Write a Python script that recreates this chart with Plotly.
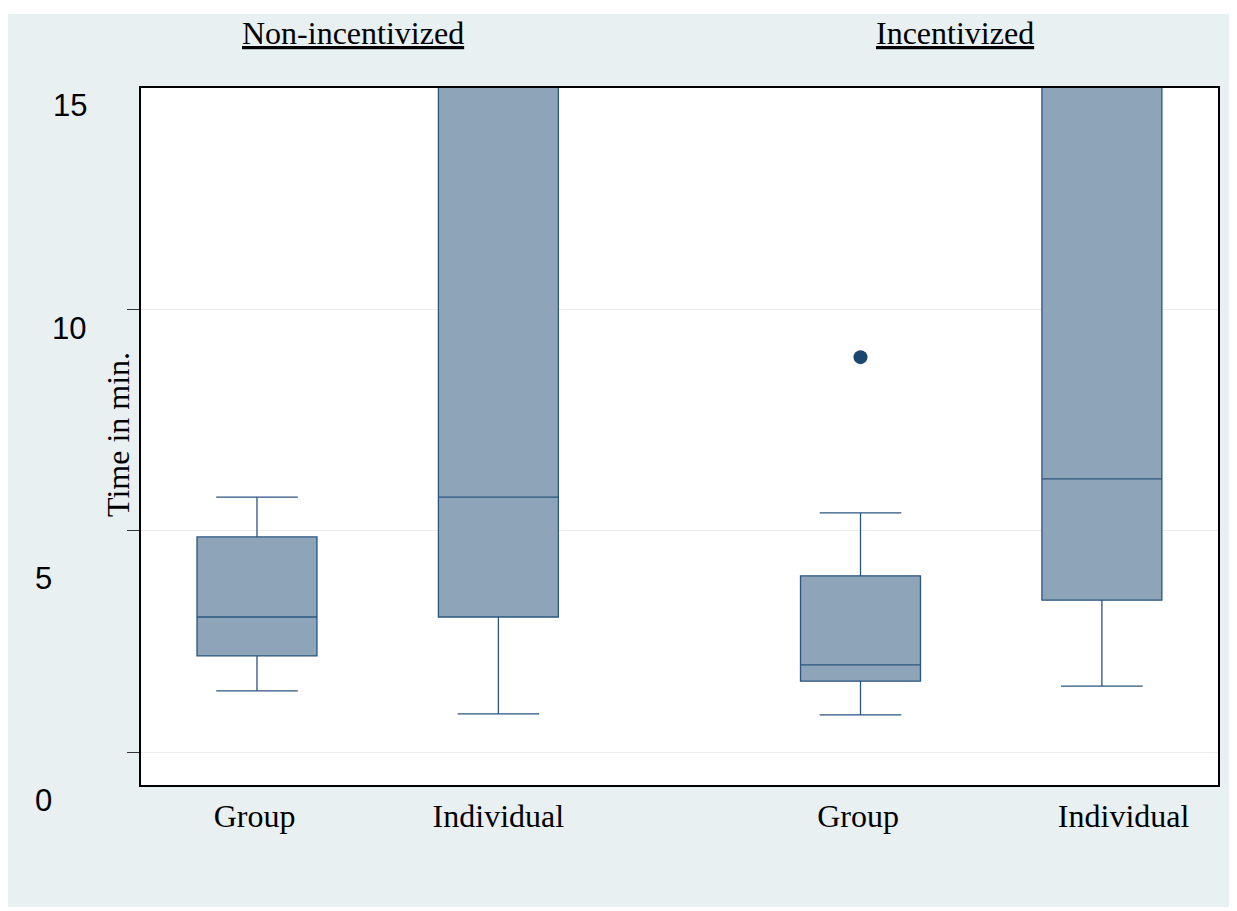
import plotly.graph_objects as go

# ---- data ----
panels = ["Non-incentivized", "Incentivized"]
positions = [0, 1, 2.5, 3.5]
labels = ["Group", "Individual", "Group", "Individual"]
lowerfence = [1.38, 0.86, 0.84, 1.49]
q1 = [2.17, 3.05, 1.60, 3.43]
median = [3.05, 5.76, 1.97, 6.17]
q3 = [4.86, 16.5, 3.98, 16.5]
upperfence = [5.76, 18.0, 5.40, 18.0]
outlier_x = [2.5]
outlier_y = [8.92]
ytick_vals = [0, 5, 10]
ytick_text = ["15", "10", "5", "0"]

# page body has an 8px margin, so figure coords = screen coords - 8
OFF = 8
W, H = 1237 - OFF, 911 - OFF
ML, MR, MT, MB = 141 - OFF, W - (1218 - OFF), 88 - OFF, H - (785 - OFF)
PW, PH = W - ML - MR, H - MT - MB

def px(x):  # screen x -> paper
    return (x - OFF - ML) / PW

def py(y):  # screen y -> paper
    return (H - MB - (y - OFF)) / PH

BG = "#e8f0f2"
FILL = "#8ea4b8"
LINE = "#2a5580"
SERIF = "Liberation Serif, Times New Roman, serif"
SANS = "Liberation Sans, Arial, sans-serif"

fig = go.Figure()
fig.add_trace(go.Box(
    x=positions, q1=q1, median=median, q3=q3,
    lowerfence=lowerfence, upperfence=upperfence,
    width=0.497, whiskerwidth=0.68,
    fillcolor=FILL, line=dict(color=LINE, width=1.3),
    boxpoints=False, showlegend=False,
))
fig.add_trace(go.Scatter(
    x=outlier_x, y=outlier_y, mode="markers",
    marker=dict(color="#1a4670", size=14), showlegend=False,
))

annotations = []
for txt, xc in zip(panels, [353, 955]):
    annotations.append(dict(text="<u>" + txt + "</u>", x=px(xc), y=py(33),
                            xref="paper", yref="paper", showarrow=False,
                            xanchor="center", yanchor="middle",
                            font=dict(family=SERIF, size=32, color="black")))
for txt, xc, yc in zip(ytick_text, [70, 69, 43, 43], [105, 328, 578, 800]):
    annotations.append(dict(text=txt, x=px(xc), y=py(yc),
                            xref="paper", yref="paper", showarrow=False,
                            xanchor="center", yanchor="middle",
                            font=dict(family=SANS, size=31, color="black")))
annotations.append(dict(text="Time in min.", x=px(118), y=py(435),
                        xref="paper", yref="paper", showarrow=False,
                        textangle=-90, xanchor="center", yanchor="middle",
                        font=dict(family=SERIF, size=32, color="black")))

shapes = [
    dict(type="rect", xref="paper", yref="paper", x0=px(-20), x1=px(1260),
         y0=py(14), y1=py(-20), fillcolor="white", line=dict(width=0), layer="below"),
    dict(type="rect", xref="paper", yref="paper", x0=px(-20), x1=px(1260),
         y0=py(940), y1=py(907), fillcolor="white", line=dict(width=0), layer="below"),
]

# label placement as drawn in the original (last label sits a bit right)
label_shift = [-0.01, 0.0, -0.01, 0.09]
label_pos = [p + s for p, s in zip(positions, label_shift)]

fig.update_layout(
    width=W, height=H,
    margin=dict(l=ML, r=MR, t=MT, b=MB, pad=0),
    paper_bgcolor=BG, plot_bgcolor="white",
    annotations=annotations, shapes=shapes,
    showlegend=False,
    xaxis=dict(range=[-0.4805, 3.981], tickmode="array", tickvals=label_pos,
               ticktext=labels, ticks="", showgrid=False, zeroline=False,
               showline=True, linecolor="black", linewidth=1.5, mirror=True,
               tickfont=dict(family=SERIF, size=32, color="black"),
               ticklabelstandoff=2),
    yaxis=dict(range=[-0.745, 15], tickmode="array", tickvals=ytick_vals,
               showticklabels=False, ticks="outside", ticklen=12,
               tickcolor="#333333", tickwidth=1,
               showgrid=True, gridcolor="#eceeee", gridwidth=1, zeroline=False,
               showline=True, linecolor="black", linewidth=1.5, mirror=True),
)

fig.write_html("out.html")
